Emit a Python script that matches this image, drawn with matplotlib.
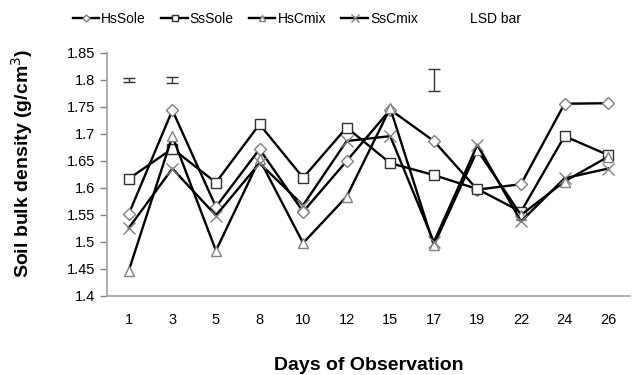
import matplotlib.pyplot as plt
import numpy as np

plt.rcParams['font.family'] = ['Liberation Sans', 'DejaVu Sans']

days = ['1', '3', '5', '8', '10', '12', '15', '17', '19', '22', '24', '26']
hs_sole = [1.552, 1.744, 1.565, 1.672, 1.556, 1.650, 1.745, 1.687, 1.597, 1.607, 1.756, 1.757]
ss_sole = [1.617, 1.673, 1.610, 1.718, 1.619, 1.712, 1.646, 1.624, 1.598, 1.556, 1.696, 1.661]
hs_cmix = [1.447, 1.696, 1.484, 1.653, 1.498, 1.584, 1.748, 1.494, 1.670, 1.550, 1.612, 1.658]
ss_cmix = [1.526, 1.636, 1.549, 1.646, 1.568, 1.687, 1.696, 1.500, 1.680, 1.538, 1.618, 1.636]

# LSD bars
lsd_days = [0, 1, 7]
lsd_y = [1.80, 1.80, 1.80]
lsd_err = [0.003, 0.005, 0.02]

fig = plt.figure(figsize=(6.35, 3.75), dpi=100)
ax = fig.add_axes([0.1685, 0.2107, 0.8235, 0.648])

x = np.arange(len(days))
grey = '#808080'
series = [(hs_sole, 'D', 'HsSole', 6), (ss_sole, 's', 'SsSole', 7),
          (hs_cmix, '^', 'HsCmix', 7), (ss_cmix, 'x', 'SsCmix', 9)]
for vals, m, lab, ms in series:
    ax.plot(x, vals, color='black', lw=1.7, marker=m, ms=ms, mfc='white',
            mec=grey if m != 's' else '#303030', mew=1.0, label=lab)

ax.errorbar(lsd_days, lsd_y, yerr=lsd_err, fmt='none', ecolor='#333333',
            elinewidth=1.0, capsize=4, capthick=1.0)

ax.set_xlim(-0.5, 11.5)
ax.set_ylim(1.4, 1.85)
ax.set_xticks(x)
ax.set_xticklabels(days)
ax.set_yticks([1.4, 1.45, 1.5, 1.55, 1.6, 1.65, 1.7, 1.75, 1.8, 1.85])
ax.set_yticklabels(['1.4', '1.45', '1.5', '1.55', '1.6', '1.65', '1.7', '1.75', '1.8', '1.85'])
ax.tick_params(axis='y', colors=grey, labelcolor='black', labelsize=10.5, length=5, width=1)
ax.tick_params(axis='x', length=0, labelsize=10.5, pad=12)
for s in ['top', 'right']:
    ax.spines[s].set_visible(False)
for s in ['left', 'bottom']:
    ax.spines[s].set_color('#a0a0a0')
    ax.spines[s].set_linewidth(1.2)

ax.set_xlabel('Days of Observation', fontsize=14, fontweight='bold', labelpad=22)
ax.set_ylabel('Soil bulk density (g/cm$^{3}$)', fontsize=14, fontweight='bold')
ax.yaxis.set_label_coords(-0.138, 0.547)

fig.legend(loc='center left', bbox_to_anchor=(0.095, 0.95), ncol=4, frameon=False,
           fontsize=10, handlelength=1.9, handletextpad=0.15, columnspacing=1.1,
           markerscale=0.6)
fig.text(0.74, 0.95, 'LSD bar', fontsize=10, va='center')

fig.savefig('out.png', dpi=100)
